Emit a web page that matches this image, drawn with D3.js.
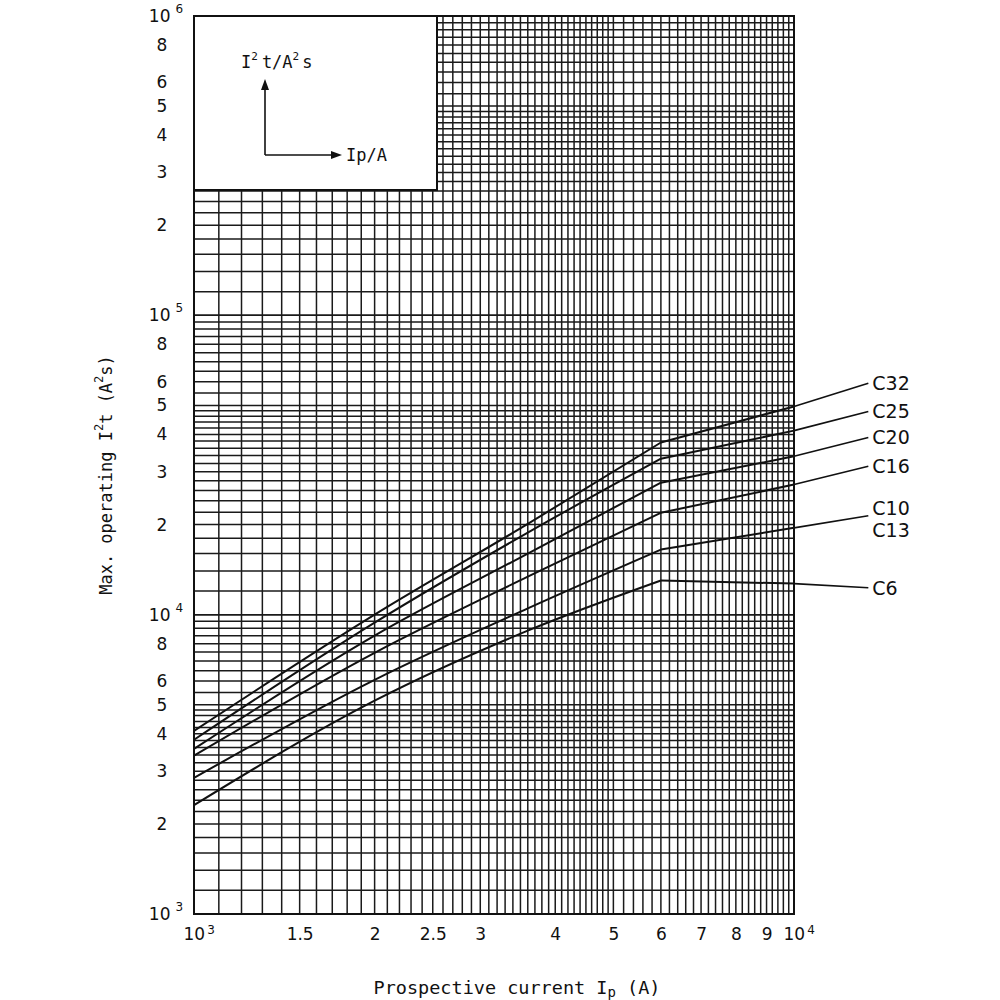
<!DOCTYPE html>
<html>
<head>
<meta charset="utf-8">
<script src="https://cdn.jsdelivr.net/npm/d3@7"></script>
<style>
  body { margin: 0; background: #fff; }
  text { fill: #111; }
</style>
</head>
<body>
<div id="chart"></div>
<script>
// data (prospective current in A, I2t in A2s)
const currents = [1000, 2000, 3600, 6000, 10000];
const curveNames = ["C32", "C25", "C20", "C16", "C10", "C6"];
const c32 = [4090, 10000, 20100, 37600, 49600];
const c25 = [3820, 9400, 18800, 33200, 41200];
const c20 = [3560, 8510, 16000, 27600, 33800];
const c16 = [3380, 7460, 13400, 21900, 27200];
const c10 = [2850, 6060, 10500, 16500, 19500];
const c6  = [2310, 5160, 8840, 13000, 12700];
const kneeIndex = 3; // the curves flatten after 6 kA

// leader lines run out of the plot to the labels
const leaderCurrent = 13300;
const leaderValues = [59300, 47700, 39100, 31300, 21400, 12300];
const curveLabels = [["C32"], ["C25"], ["C20"], ["C16"], ["C10", "C13"], ["C6"]];

const yTickLabels = [1e3, 2e3, 3e3, 4e3, 5e3, 6e3, 8e3,
                     1e4, 2e4, 3e4, 4e4, 5e4, 6e4, 8e4,
                     1e5, 2e5, 3e5, 4e5, 5e5, 6e5, 8e5, 1e6];
const xTickLabels = [1000, 1500, 2000, 2500, 3000, 4000, 5000, 6000, 7000, 8000, 9000, 10000];
const xTickText = ["10", "1.5", "2", "2.5", "3", "4", "5", "6", "7", "8", "9", "10"];

// grid steps inside one decade
const xGridMant = d3.range(10, 50, 1).map(d => d / 10).concat(d3.range(50, 101, 2).map(d => d / 10));
const yGridMant = [1].concat(d3.range(12, 50, 2).map(d => d / 10), d3.range(50, 101, 5).map(d => d / 10));

const width = 1000, height = 1000;
const plot = {left: 194, right: 794, top: 16, bottom: 914};

let svg = d3.select("#chart")
    .append("svg")
    .attr("width", width)
    .attr("height", height);

let x = d3.scaleLog().domain([1e3, 1e4]).range([plot.left, plot.right]);
let y = d3.scaleLog().domain([1e3, 1e6]).range([plot.bottom, plot.top]);

let xGrid = xGridMant.map(m => m * 1e3);
let yGrid = [];
[1e3, 1e4, 1e5].forEach(dec => yGridMant.forEach(m => yGrid.push(m * dec)));

// grid
let grid = svg.append("g").attr("stroke", "#1a1a1a").attr("stroke-width", 1.5);
grid.selectAll(".vx").data(xGrid).enter()
    .append("line")
    .attr("x1", d => x(d)).attr("x2", d => x(d))
    .attr("y1", plot.top).attr("y2", plot.bottom);
grid.selectAll(".hy").data(yGrid).enter()
    .append("line")
    .attr("x1", plot.left).attr("x2", plot.right)
    .attr("y1", d => y(d)).attr("y2", d => y(d));

// inset box with the unit legend
let inset = svg.append("g");
inset.append("rect")
    .attr("x", plot.left).attr("y", plot.top)
    .attr("width", 243).attr("height", 174)
    .attr("fill", "#fff").attr("stroke", "#111").attr("stroke-width", 2);

let insetT = inset.append("text")
    .attr("x", 241).attr("y", 68)
    .style("font-family", "DejaVu Sans Mono")
    .style("font-size", "17px");
insetT.append("tspan").text("I");
insetT.append("tspan").attr("dy", -8).style("font-size", "11px").text("2");
insetT.append("tspan").attr("dy", 8).attr("dx", 4).text("t/A");
insetT.append("tspan").attr("dy", -8).attr("dx", 0).style("font-size", "11px").text("2");
insetT.append("tspan").attr("dy", 8).attr("dx", 3).text("s");

inset.append("line").attr("x1", 265).attr("y1", 155).attr("x2", 265).attr("y2", 88)
    .attr("stroke", "#111").attr("stroke-width", 1.6);
inset.append("path").attr("d", "M265,79 L261,90 L269,90 Z").attr("fill", "#111");
inset.append("line").attr("x1", 265).attr("y1", 155).attr("x2", 333).attr("y2", 155)
    .attr("stroke", "#111").attr("stroke-width", 1.6);
inset.append("path").attr("d", "M342,155 L331,151 L331,159 Z").attr("fill", "#111");
inset.append("text")
    .attr("x", 346).attr("y", 161)
    .style("font-family", "DejaVu Sans Mono")
    .style("font-size", "17px")
    .text("Ip/A");

// curves: smooth rise up to the knee, straight after it
let series = [c32, c25, c20, c16, c10, c6];
let smooth = d3.line().x(d => x(d[0])).y(d => y(d[1])).curve(d3.curveMonotoneX);
let straight = d3.line().x(d => x(d[0])).y(d => y(d[1]));
let curves = svg.append("g");
series.forEach((vals, i) => {
    let pts = currents.map((c, j) => [c, vals[j]]);
    curves.append("path")
        .attr("d", smooth(pts.slice(0, kneeIndex + 1)))
        .attr("fill", "none").attr("stroke", "#111").attr("stroke-width", 2);
    curves.append("path")
        .attr("d", straight(pts.slice(kneeIndex)))
        .attr("fill", "none").attr("stroke", "#111").attr("stroke-width", 2);
    // leader to the label
    let last = pts[pts.length - 1];
    curves.append("line")
        .attr("x1", x(last[0])).attr("y1", y(last[1]))
        .attr("x2", x(leaderCurrent)).attr("y2", y(leaderValues[i]))
        .attr("stroke", "#111").attr("stroke-width", 1.6);
    let labs = curveLabels[i];
    labs.forEach((lab, k) => {
        let off = labs.length == 1 ? 0 : (k == 0 ? -8 : 14);
        curves.append("text")
            .attr("x", x(leaderCurrent) + 4)
            .attr("y", y(leaderValues[i]) + off)
            .attr("dy", "0.36em")
            .style("font-family", "DejaVu Sans")
            .style("font-size", "19px")
            .text(lab);
    });
});

// border
svg.append("rect")
    .attr("x", plot.left).attr("y", plot.top)
    .attr("width", plot.right - plot.left).attr("height", plot.bottom - plot.top)
    .attr("fill", "none").attr("stroke", "#111").attr("stroke-width", 2);

// y axis labels
let yAxis = svg.append("g")
    .attr("transform", `translate(${plot.left},0)`)
    .call(d3.axisLeft(y).tickValues(yTickLabels).tickSize(0).tickFormat(d => {
        let m = d / Math.pow(10, Math.floor(Math.log10(d) + 1e-9));
        return Math.abs(m - 1) < 1e-6 ? "10" : String(Math.round(m));
    }));
yAxis.select(".domain").remove();
yAxis.selectAll("text")
    .style("font-family", "DejaVu Sans")
    .style("font-size", "17px")
    .attr("fill", "#111")
    .attr("text-anchor", "middle")
    .attr("x", -32)
    .each(function(d) {
        let e = Math.floor(Math.log10(d) + 1e-9);
        if (Math.abs(d / Math.pow(10, e) - 1) < 1e-6) {
            let t = d3.select(this).attr("x", -28);
            t.append("tspan").attr("dx", 5).attr("dy", "-0.75em").style("font-size", "12px").text(e);
        }
    });

// x axis labels
let xAxis = svg.append("g")
    .attr("transform", `translate(0,${plot.bottom})`)
    .call(d3.axisBottom(x).tickValues(xTickLabels).tickSize(0).tickPadding(14)
        .tickFormat((d, i) => xTickText[i]));
xAxis.select(".domain").remove();
xAxis.selectAll("text")
    .style("font-family", "DejaVu Sans")
    .style("font-size", "17px")
    .attr("fill", "#111")
    .each(function(d) {
        let e = Math.round(Math.log10(d));
        if (Math.abs(d - Math.pow(10, e)) < 1e-6) {
            let t = d3.select(this).attr("text-anchor", "start").attr("x", -11);
            t.append("tspan").attr("dx", 2).attr("dy", "-0.5em").style("font-size", "12px").text(e);
        }
    });

// axis titles
let xt = svg.append("text")
    .attr("x", 517).attr("y", 994)
    .attr("text-anchor", "middle")
    .style("font-family", "DejaVu Sans Mono")
    .style("font-size", "18.5px")
    .text("Prospective current I");
xt.append("tspan").attr("dy", 3).style("font-size", "14px").text("p");
xt.append("tspan").attr("dy", -3).text(" (A)");

let yt = svg.append("text")
    .attr("transform", "translate(112,475) rotate(-90)")
    .attr("text-anchor", "middle")
    .style("font-family", "DejaVu Sans Mono")
    .style("font-size", "17px")
    .text("Max. operating I");
yt.append("tspan").attr("dy", -9).style("font-size", "12px").text("2");
yt.append("tspan").attr("dy", 9).text("t  (A");
yt.append("tspan").attr("dy", -9).style("font-size", "12px").text("2");
yt.append("tspan").attr("dy", 9).text("s)");
</script>
</body>
</html>
